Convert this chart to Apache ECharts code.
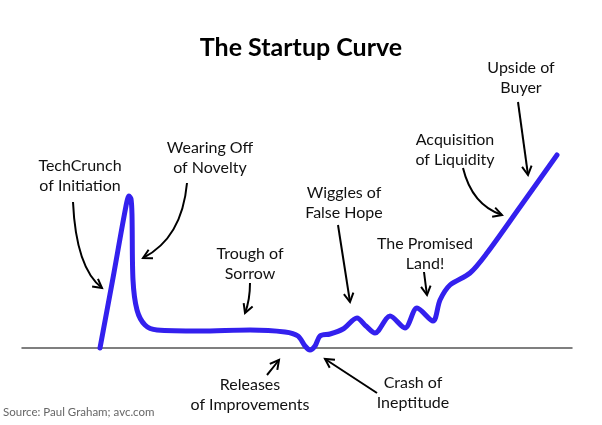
<!DOCTYPE html>
<html>
<head>
<meta charset="utf-8">
<script src="https://cdn.jsdelivr.net/npm/echarts@6/dist/echarts.min.js"></script>
<style>html,body{margin:0;padding:0;background:#fff}#c{width:602px;height:425px}</style>
</head>
<body>
<div id="c"></div>
<script>
// Curve: time (x) vs. perceived value (y)
var curveX = [15.6, 18.2, 20.8, 21.4, 21.8, 22.0, 22.2, 23.0, 24.6, 27, 35.6, 45.6, 52.6, 55.2, 56.6, 57.6, 58.6, 59.6, 61.6, 64.2, 67, 68.8, 70.6, 73.6, 76.6, 79, 82.2, 83.6, 85.6, 89.6, 93, 99.6, 107];
var curveY = [0, 35, 71, 76, 74.5, 66.5, 34, 19, 11.5, 9, 8.5, 9, 8, 6, 1, -1, 1, 6, 7, 9.5, 15, 11, 7.5, 16, 10, 20, 13.5, 24, 31.5, 37.5, 47.5, 70.5, 96.5];

// Annotations
var annotationText = [
  'TechCrunch\nof Initiation',
  'Wearing Off\nof Novelty',
  'Trough of\nSorrow',
  'Wiggles of\nFalse Hope',
  'The Promised\nLand!',
  'Acquisition\nof Liquidity',
  'Upside of\nBuyer',
  'Releases\nof Improvements',
  'Crash of\nIneptitude'
];
var annotationAt = [[11.6, 86], [37.6, 95], [45.6, 42], [64.4, 72.5], [80.6, 47], [86.6, 99], [99.8, 135], [45.6, -23.5], [78.2, -22.5]];
// arrows: start, control, end
var arrowStart = [[10.2, 73], [33, 82.5], [45.6, 32.5], [63.2, 61.5], [80.4, 38], [88.2, 90], [99.2, 123], [49, -13.5], [71, -22.5]];
var arrowCtrl  = [[10.8, 40], [32, 55], [45.6, 24], [64.4, 42], [80.7, 32], [90, 71.5], [100.2, 105], [50.2, -9.8], [65.8, -14]];
var arrowEnd   = [[16, 30], [24.2, 45], [44.6, 17.5], [65.6, 23], [81, 26.5], [96, 66.5], [101.2, 86.5], [51.4, -6], [60.6, -5.5]];

var titleText = 'The Startup Curve';
var sourceText = 'Source: Paul Graham; avc.com';

var FONT = 'Lato, "Open Sans", sans-serif';

var curveData = curveX.map(function (x, i) { return [x, curveY[i]]; });
var arrowData = arrowStart.map(function (s, i) {
  return [s[0], s[1], arrowCtrl[i][0], arrowCtrl[i][1], arrowEnd[i][0], arrowEnd[i][1]];
});
var textData = annotationAt.map(function (p, i) { return [p[0], p[1], annotationText[i]]; });

var chart = echarts.init(document.getElementById('c'));
chart.setOption({
  backgroundColor: '#fff',
  animation: false,
  title: {
    text: titleText, left: 'center', top: 30, itemGap: 0,
    textStyle: { fontFamily: FONT, fontSize: 25, fontWeight: 'bold', color: '#000' }
  },
  graphic: [{
    type: 'text', left: 3, top: 406,
    style: { text: sourceText, fontFamily: FONT, fontSize: 11.5, fill: '#666' }
  }],
  grid: { left: 22, right: 30, top: 8, bottom: 17 },
  xAxis: {
    type: 'value', min: 0, max: 110,
    axisLine: { show: true, onZero: true, lineStyle: { color: '#555', width: 1.5 } },
    axisTick: { show: false }, axisLabel: { show: false }, splitLine: { show: false }
  },
  yAxis: {
    type: 'value', min: -30, max: 170, show: false, splitLine: { show: false }
  },
  series: [
    {
      type: 'line', data: curveData, smooth: 0.3, showSymbol: false,
      lineStyle: { color: '#3320ee', width: 5, cap: 'round', join: 'round' },
      z: 3
    },
    {
      type: 'custom', data: arrowData, encode: { x: [0, 2, 4], y: [1, 3, 5] },
      renderItem: function (params, api) {
        var s = api.coord([api.value(0), api.value(1)]);
        var c = api.coord([api.value(2), api.value(3)]);
        var e = api.coord([api.value(4), api.value(5)]);
        var ang = Math.atan2(e[1] - c[1], e[0] - c[0]);
        var L = 10, A = 0.5;
        var h1 = [e[0] - L * Math.cos(ang - A), e[1] - L * Math.sin(ang - A)];
        var h2 = [e[0] - L * Math.cos(ang + A), e[1] - L * Math.sin(ang + A)];
        return {
          type: 'group',
          children: [
            { type: 'bezierCurve', shape: { x1: s[0], y1: s[1], cpx1: c[0], cpy1: c[1], x2: e[0], y2: e[1] },
              style: { stroke: '#000', lineWidth: 2, fill: null } },
            { type: 'polyline', shape: { points: [h1, e, h2] },
              style: { stroke: '#000', lineWidth: 2, fill: null, lineJoin: 'miter' } }
          ]
        };
      },
      z: 4
    },
    {
      type: 'custom', data: textData, encode: { x: 0, y: 1 },
      renderItem: function (params, api) {
        var p = api.coord([api.value(0), api.value(1)]);
        return {
          type: 'text', x: p[0], y: p[1],
          style: {
            text: textData[params.dataIndex][2], fontFamily: FONT, fontSize: 16,
            lineHeight: 20, fill: '#111', align: 'center', verticalAlign: 'middle'
          }
        };
      },
      z: 5
    }
  ]
});
</script>
</body>
</html>
